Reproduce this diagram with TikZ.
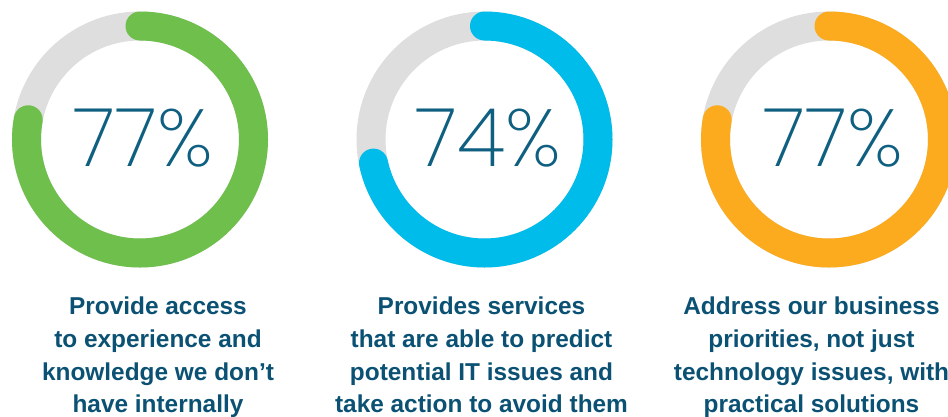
\documentclass[tikz,border=0pt]{standalone}
\usepackage{fontspec}
\setmainfont{Liberation Sans}
\newfontfamily\pctfont{Poppins}[UprightFont={* ExtraLight}]
\definecolor{ringgrey}{HTML}{DEDEDE}
\definecolor{ringgreen}{HTML}{6EBF4B}
\definecolor{ringblue}{HTML}{00BCEB}
\definecolor{ringorange}{HTML}{FBAB1D}
\definecolor{pctblue}{HTML}{0F5F80}
\definecolor{capblue}{HTML}{0B5173}
\begin{document}
\begin{tikzpicture}[x=1pt,y=1pt,
        ring/.style={line width=29pt},
        bar/.style={line width=29pt, line cap=round},
        pct/.style={anchor=base, inner sep=0, text=pctblue, font=\pctfont\fontsize{81}{81}\selectfont},
        caption/.style={anchor=north, align=center, inner sep=0, text=capblue, font=\bfseries\fontsize{24.4}{32.6}\selectfont}]
        \useasboundingbox (0, 0) rectangle (948, -416);

        \coordinate (c1) at (140, -139.5);
        \coordinate (c2) at (484.5, -139.5);
        \coordinate (c3) at (829, -139.5);

        % grey tracks
        \draw[ring, ringgrey] (c1) circle[radius=113.5];
        \draw[ring, ringgrey] (c2) circle[radius=113.5];
        \draw[ring, ringgrey] (c3) circle[radius=113.5];

        % coloured parts
        \draw[bar, ringgreen] (c1) ++(90:113.5) arc[start angle=90, end angle=-190, radius=113.5];
        \draw[bar, ringblue] (c2) ++(90:113.5) arc[start angle=90, end angle=-168, radius=113.5];
        \draw[bar, ringorange] (c3) ++(90:113.5) arc[start angle=90, end angle=-190, radius=113.5];

        \node[pct] (p1) at (143.5, -166) {77\%};
        \node[pct] (p2) at (488.5, -166) {74\%};
        \node[pct] (p3) at (833, -166) {77\%};

        \node[caption] (t1) at (158, -297) {Provide access\\to experience and\\knowledge we don’t\\have internally};
        \node[caption] (t2) at (481.5, -297) {Provides services\\that are able to predict\\potential IT issues and\\take action to avoid them};
        \node[caption] (t3) at (811.5, -297) {Address our business\\priorities, not just\\technology issues, with\\practical solutions};
\end{tikzpicture}
\end{document}
